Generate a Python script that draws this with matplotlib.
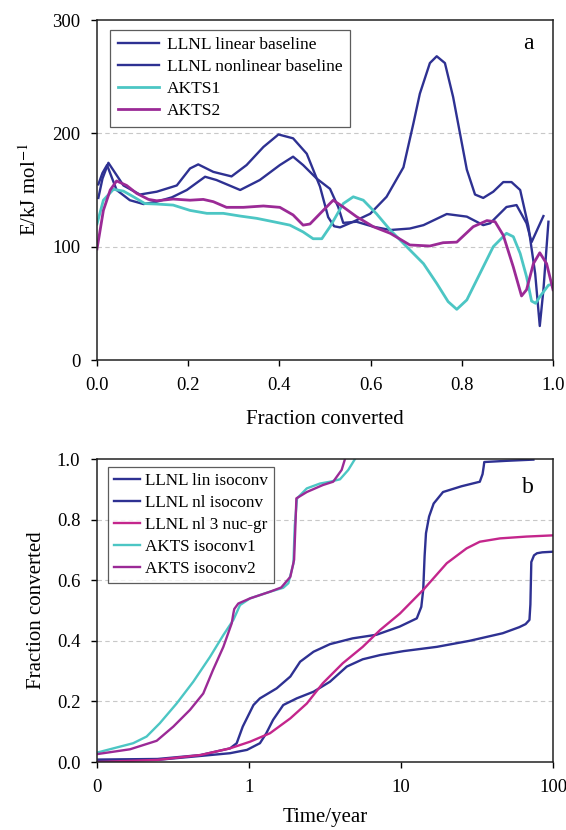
import matplotlib
matplotlib.use("Agg")
import matplotlib.pyplot as plt
from matplotlib.ticker import FixedLocator, FixedFormatter, NullLocator

# ---- panel a: activation energy vs fraction converted ----
lin_x = [0.003, 0.012, 0.025, 0.058, 0.094, 0.131, 0.175, 0.204, 0.222, 0.255, 0.295, 0.328, 0.365, 0.398,
         0.43, 0.46, 0.489, 0.507, 0.52, 0.533, 0.562, 0.599, 0.635, 0.672, 0.694, 0.708, 0.730, 0.745, 0.763,
         0.781, 0.796, 0.811, 0.829, 0.847, 0.869, 0.891, 0.909, 0.928, 0.946, 0.961, 0.971, 0.979, 0.99]
lin_E = [143, 160, 174, 154, 146, 148.5, 154, 169, 172.6, 166, 162, 172, 188, 199,
         195.6, 182, 153, 126, 118, 117, 122, 129, 144, 170, 209, 235, 262, 268, 262,
         232, 200, 168, 146, 143, 148.5, 157, 157, 150, 118, 76, 30, 62, 122]

nl_x = [0.003, 0.012, 0.022, 0.043, 0.072, 0.102, 0.131, 0.164, 0.197, 0.237, 0.262, 0.314, 0.357, 0.401,
        0.43, 0.452, 0.482, 0.511, 0.529, 0.54, 0.569, 0.606, 0.643, 0.686, 0.716, 0.767, 0.811, 0.847,
        0.862, 0.898, 0.92, 0.942, 0.953, 0.979]
nl_E = [155, 165, 172, 150, 141, 137.6, 139.7, 143.5, 150, 161.7, 158.8, 150, 158.8, 172,
        179.4, 172, 160, 151, 135, 121, 122, 117.6, 114.7, 116, 119, 128.8, 126.5, 119,
        120.6, 135, 136.7, 120.6, 104, 127]

akts1_x = [0.0, 0.014, 0.036, 0.058, 0.080, 0.105, 0.131, 0.167, 0.204, 0.241, 0.277, 0.314, 0.350, 0.387,
           0.423, 0.452, 0.474, 0.493, 0.511, 0.54, 0.562, 0.584, 0.613, 0.643, 0.679, 0.716, 0.745, 0.770,
           0.789, 0.811, 0.840, 0.869, 0.898, 0.913, 0.928, 0.942, 0.953, 0.962, 0.971, 0.99, 1.0]
akts1_E = [120, 141, 150.6, 149, 144, 138, 137.6, 136.7, 132, 129.4, 129.4, 127, 125, 122,
           119, 113, 107, 107, 117.6, 138, 144, 141, 129, 114.7, 100, 85, 67.6, 51.5,
           44.7, 53, 76.5, 100, 111.8, 108.8, 94, 73.5, 52, 50, 55.8, 66, 67]

akts2_x = [0.0, 0.005, 0.014, 0.029, 0.043, 0.065, 0.087, 0.113, 0.131, 0.167, 0.204, 0.233, 0.255, 0.284,
           0.321, 0.365, 0.401, 0.430, 0.452, 0.467, 0.496, 0.518, 0.54, 0.569, 0.606, 0.643, 0.686, 0.730,
           0.759, 0.789, 0.825, 0.855, 0.873, 0.891, 0.913, 0.931, 0.942, 0.957, 0.971, 0.986, 1.0]
akts2_E = [98, 110, 132, 150, 158, 154, 147, 141.7, 140.5, 142, 141, 141.7, 139.7, 134.7,
           134.7, 135.9, 134.7, 128, 119, 120, 132, 141, 135, 126.5, 117.6, 111.8, 101.5, 100.6,
           103.5, 104, 117.6, 123, 122, 110, 82, 56.5, 62, 85, 94.6, 85, 62]

# ---- panel b: fraction converted vs time (years) ----
lin_iso_t = [0.1, 0.25, 0.48, 0.75, 0.97, 1.18, 1.3, 1.44, 1.68, 2.06, 2.66, 3.41, 4.4, 5.6, 7.3, 10.4,
             17.2, 28.3, 46.7, 60, 66, 70, 71, 72, 75, 78.5, 85, 100]
lin_iso_f = [0.006, 0.007, 0.02, 0.029, 0.04, 0.062, 0.095, 0.139, 0.188, 0.21, 0.232, 0.265, 0.315, 0.339,
             0.353, 0.366, 0.38, 0.40, 0.425, 0.445, 0.455, 0.469, 0.52, 0.66, 0.682, 0.689, 0.692, 0.694]

nl_iso_t = [0.1, 0.25, 0.48, 0.75, 0.83, 0.91, 1.07, 1.18, 1.52, 1.87, 2.17, 2.66, 3.41, 4.8, 6.9, 9.8,
            12.7, 13.6, 14.0, 14.3, 14.6, 15.3, 16.4, 18.9, 25, 33, 34.4, 35.0, 35.3, 49.5, 74.3]
nl_iso_f = [0.008, 0.01, 0.023, 0.045, 0.062, 0.117, 0.188, 0.21, 0.243, 0.282, 0.331, 0.364, 0.389, 0.408,
            0.42, 0.447, 0.474, 0.512, 0.568, 0.68, 0.755, 0.81, 0.853, 0.891, 0.91, 0.925, 0.95, 0.975,
            0.99, 0.994, 0.998]

nucgr_t = [0.1, 0.25, 0.48, 0.75, 1.016, 1.375, 1.87, 2.4, 3.06, 4.14, 5.6, 7.3, 9.84, 14.0, 20, 27, 33,
           44.8, 67, 100]
nucgr_f = [0.0, 0.007, 0.023, 0.045, 0.067, 0.095, 0.144, 0.193, 0.26, 0.326, 0.38, 0.436, 0.49, 0.568,
           0.656, 0.705, 0.727, 0.738, 0.744, 0.748]

iso1_t = [0.1, 0.173, 0.212, 0.259, 0.334, 0.43, 0.554, 0.678, 0.789, 0.873, 1.016, 1.375, 1.68, 1.815,
          1.96, 2.0, 2.07, 2.4, 2.93, 3.41, 3.97, 4.5, 4.98]
iso1_f = [0.031, 0.062, 0.084, 0.128, 0.193, 0.265, 0.347, 0.419, 0.469, 0.518, 0.540, 0.562, 0.575, 0.59,
          0.655, 0.78, 0.870, 0.903, 0.919, 0.925, 0.933, 0.964, 1.0]

iso2_t = [0.1, 0.165, 0.247, 0.318, 0.409, 0.5, 0.58, 0.678, 0.77, 0.789, 0.8, 0.85, 1.016, 1.375, 1.63,
          1.87, 1.98, 2.02, 2.05, 2.4, 3.06, 3.58, 4.07, 4.28]
iso2_f = [0.026, 0.042, 0.07, 0.117, 0.172, 0.226, 0.304, 0.38, 0.458, 0.49, 0.505, 0.523, 0.540, 0.562,
          0.576, 0.611, 0.667, 0.78, 0.87, 0.891, 0.914, 0.925, 0.964, 1.0]

time_ticks = [0.1, 1, 10, 100]
time_labels = ["0", "1", "10", "100"]

BLUE = "#2e3192"
CYAN = "#4cc6c4"
PURPLE = "#9b2a96"
MAGENTA = "#c4268c"

plt.rcParams["font.family"] = ["Liberation Serif", "DejaVu Serif"]
plt.rcParams["mathtext.fontset"] = "stix"

fig = plt.figure(figsize=(5.66, 8.30), dpi=100)
ax1 = fig.add_axes([97 / 566, 1 - 360 / 830, 456 / 566, 340 / 830])
ax2 = fig.add_axes([97 / 566, 1 - 762 / 830, 456 / 566, 303 / 830])

lw = 1.7
grid_kw = dict(ls=(0, (4, 3)), color="#c8c8c8", lw=0.8)

# panel a
ax1.plot(lin_x, lin_E, color=BLUE, lw=lw, label="LLNL linear baseline")
ax1.plot(nl_x, nl_E, color=BLUE, lw=lw, label="LLNL nonlinear baseline")
ax1.plot(akts1_x, akts1_E, color=CYAN, lw=lw + 0.3, label="AKTS1")
ax1.plot(akts2_x, akts2_E, color=PURPLE, lw=lw + 0.3, label="AKTS2")
ax1.set_xlim(0, 1)
ax1.set_ylim(0, 300)
ax1.set_xticks([0, 0.2, 0.4, 0.6, 0.8, 1.0])
ax1.set_xticklabels(["0.0", "0.2", "0.4", "0.6", "0.8", "1.0"])
ax1.set_yticks([0, 100, 200, 300])
for v in [100, 200]:
    ax1.axhline(v, zorder=0, **grid_kw)
ax1.set_xlabel("Fraction converted", fontsize=15, labelpad=12)
ax1.set_ylabel("E/kJ mol$^{-1}$", fontsize=15, labelpad=8)
ax1.text(0.945, 0.93, "a", transform=ax1.transAxes, fontsize=17, ha="center", va="center")
leg1 = ax1.legend(loc="upper left", bbox_to_anchor=(0.028, 0.972), fontsize=12.5, frameon=True,
                  fancybox=False, handlelength=2.4, handletextpad=0.45, labelspacing=0.33,
                  borderpad=0.45, borderaxespad=0)
leg1.get_frame().set_edgecolor("#333333")
leg1.get_frame().set_linewidth(0.9)

# panel b
ax2.plot(lin_iso_t, lin_iso_f, color=BLUE, lw=lw, label="LLNL lin isoconv")
ax2.plot(nl_iso_t, nl_iso_f, color=BLUE, lw=lw, label="LLNL nl isoconv")
ax2.plot(nucgr_t, nucgr_f, color=MAGENTA, lw=lw, label="LLNL nl 3 nuc-gr")
ax2.plot(iso1_t, iso1_f, color=CYAN, lw=lw, label="AKTS isoconv1")
ax2.plot(iso2_t, iso2_f, color=PURPLE, lw=lw, label="AKTS isoconv2")
ax2.set_xscale("log")
ax2.set_xlim(0.1, 100)
ax2.set_ylim(0, 1)
ax2.xaxis.set_major_locator(FixedLocator(time_ticks))
ax2.xaxis.set_major_formatter(FixedFormatter(time_labels))
ax2.xaxis.set_minor_locator(NullLocator())
ax2.set_yticks([0, 0.2, 0.4, 0.6, 0.8, 1.0])
ax2.set_yticklabels(["0.0", "0.2", "0.4", "0.6", "0.8", "1.0"])
for v in [0.2, 0.4, 0.6, 0.8]:
    ax2.axhline(v, zorder=0, **grid_kw)
ax2.set_xlabel("Time/year", fontsize=15, labelpad=9)
ax2.set_ylabel("Fraction converted", fontsize=15, labelpad=8)
ax2.text(0.945, 0.905, "b", transform=ax2.transAxes, fontsize=17, ha="center", va="center")
leg2 = ax2.legend(loc="upper left", bbox_to_anchor=(0.024, 0.975), fontsize=12.3, frameon=True,
                  fancybox=False, handlelength=1.5, handletextpad=0.3, labelspacing=0.36,
                  borderpad=0.35, borderaxespad=0)
leg2.get_frame().set_edgecolor("#333333")
leg2.get_frame().set_linewidth(0.9)

for ax in (ax1, ax2):
    ax.tick_params(direction="out", length=4, width=1, labelsize=13.5, top=False, right=False, pad=8)
    for s in ax.spines.values():
        s.set_linewidth(1.1)
        s.set_color("#222222")

fig.savefig("out.png", dpi=100)
